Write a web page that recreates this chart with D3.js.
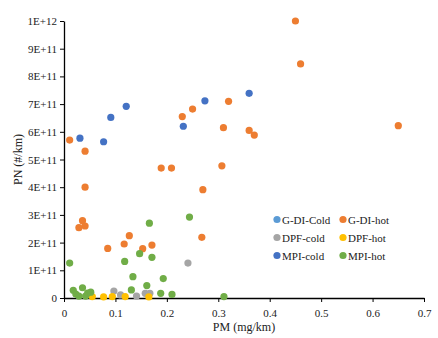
<!DOCTYPE html>
<html>
<head>
<meta charset="utf-8">
<script src="https://cdn.jsdelivr.net/npm/d3@7"></script>
<style>
  body { margin: 0; background: #fff; }
  svg text { font-family: "Liberation Serif", "Times New Roman", serif; fill: #222; }
</style>
</head>
<body>
<div id="chart"></div>
<script>
// values: [PM (mg/km), PN (#/km)]
var seriesNames = ['G-DI-Cold', 'G-DI-hot', 'DPF-cold', 'DPF-hot', 'MPI-cold', 'MPI-hot'];
var seriesColors = ['#5B9BD5', '#ED7D31', '#A5A5A5', '#FFC000', '#4472C4', '#70AD47'];

var gdiCold = [];
var gdiHot = [
  [0.011, 5.70e11], [0.041, 5.30e11], [0.041, 4.00e11], [0.036, 2.79e11],
  [0.029, 2.54e11], [0.041, 2.60e11], [0.085, 1.79e11], [0.117, 1.95e11],
  [0.127, 2.25e11], [0.153, 1.78e11], [0.171, 1.91e11], [0.189, 4.69e11],
  [0.209, 4.69e11], [0.307, 4.77e11], [0.270, 3.91e11], [0.268, 2.19e11],
  [0.230, 6.55e11], [0.250, 6.82e11], [0.320, 7.10e11], [0.310, 6.15e11],
  [0.360, 6.05e11], [0.370, 5.88e11], [0.450, 1.00e12], [0.460, 8.45e11],
  [0.650, 6.22e11]
];
var dpfCold = [
  [0.097, 0.25e11], [0.110, 0.11e11], [0.141, 0.07e11], [0.158, 0.17e11],
  [0.167, 0.17e11], [0.241, 1.26e11]
];
var dpfHot = [
  [0.055, 0.05e11], [0.077, 0.04e11], [0.094, 0.05e11], [0.119, 0.05e11],
  [0.165, 0.04e11]
];
var mpiCold = [
  [0.031, 5.77e11], [0.077, 5.64e11], [0.091, 6.52e11], [0.121, 6.92e11],
  [0.232, 6.20e11], [0.274, 7.12e11], [0.360, 7.39e11]
];
var mpiHot = [
  [0.011, 1.26e11], [0.018, 0.28e11], [0.023, 0.14e11], [0.029, 0.07e11],
  [0.036, 0.37e11], [0.042, 0.07e11], [0.046, 0.18e11], [0.052, 0.21e11],
  [0.118, 1.32e11], [0.134, 0.77e11], [0.131, 0.29e11], [0.147, 1.60e11],
  [0.161, 0.45e11], [0.166, 2.70e11], [0.171, 1.47e11], [0.193, 0.70e11],
  [0.188, 0.17e11], [0.210, 0.13e11], [0.244, 2.92e11], [0.311, 0.05e11]
];
var seriesData = [gdiCold, gdiHot, dpfCold, dpfHot, mpiCold, mpiHot];

var xTicks = [0, 0.1, 0.2, 0.3, 0.4, 0.5, 0.6, 0.7];
var yTicks = [0, 1e11, 2e11, 3e11, 4e11, 5e11, 6e11, 7e11, 8e11, 9e11, 1e12];
var yTickLabels = ['0', '1E+11', '2E+11', '3E+11', '4E+11', '5E+11', '6E+11', '7E+11', '8E+11', '9E+11', '1E+12'];

var width = 438, height = 338;
var margin = { top: 21, right: 14, bottom: 40, left: 64 };

var svg = d3.select('#chart').append('svg')
  .attr('width', width)
  .attr('height', height);

var x = d3.scaleLinear().domain([0, 0.7]).range([margin.left, width - margin.right]);
var y = d3.scaleLinear().domain([0, 1e12]).range([height - margin.bottom, margin.top]);

// axes
var xAxis = svg.append('g')
  .attr('transform', 'translate(0,' + y(0) + ')')
  .call(d3.axisBottom(x).tickValues(xTicks).tickSize(4).tickSizeOuter(0)
    .tickFormat(function(d) { return d === 0 ? '0' : d3.format('.1f')(d); }));

var yAxis = svg.append('g')
  .attr('transform', 'translate(' + x(0) + ',0)')
  .call(d3.axisLeft(y).tickValues(yTicks).tickSize(4).tickSizeOuter(0)
    .tickFormat(function(d, i) { return yTickLabels[i]; }));

[xAxis, yAxis].forEach(function(g) {
  g.select('.domain').attr('stroke', '#000').attr('stroke-width', 1.3);
  g.selectAll('.tick line').attr('stroke', '#000');
  g.selectAll('.tick text')
    .style('font-family', '"Liberation Serif", serif')
    .style('font-size', '11px')
    .attr('fill', '#333');
});
xAxis.selectAll('.tick text').attr('dy', '1.05em');
yAxis.selectAll('.tick text').attr('x', -7);

// points
seriesData.forEach(function(data, i) {
  svg.append('g').selectAll('circle')
    .data(data)
    .enter().append('circle')
    .attr('cx', function(d) { return x(d[0]); })
    .attr('cy', function(d) { return y(d[1]); })
    .attr('r', 3.6)
    .attr('fill', seriesColors[i]);
});

// axis titles
svg.append('text')
  .attr('x', (x(0) + x(0.7)) / 2)
  .attr('y', 331)
  .attr('text-anchor', 'middle')
  .style('font-size', '12px')
  .text('PM (mg/km)');

svg.append('text')
  .attr('transform', 'translate(22,' + ((y(0) + y(1e12)) / 2) + ') rotate(-90)')
  .attr('text-anchor', 'middle')
  .style('font-size', '12px')
  .text('PN (#/km)');

// legend, two columns
var legend = svg.append('g');
seriesNames.forEach(function(name, i) {
  var col = i % 2, row = Math.floor(i / 2);
  var lx = 277 + col * 66, ly = 219.5 + row * 18;
  legend.append('circle')
    .attr('cx', lx)
    .attr('cy', ly)
    .attr('r', 3.6)
    .attr('fill', seriesColors[i]);
  legend.append('text')
    .attr('x', lx + 5)
    .attr('y', ly + 4)
    .style('font-size', '11px')
    .text(name);
});
</script>
</body>
</html>
